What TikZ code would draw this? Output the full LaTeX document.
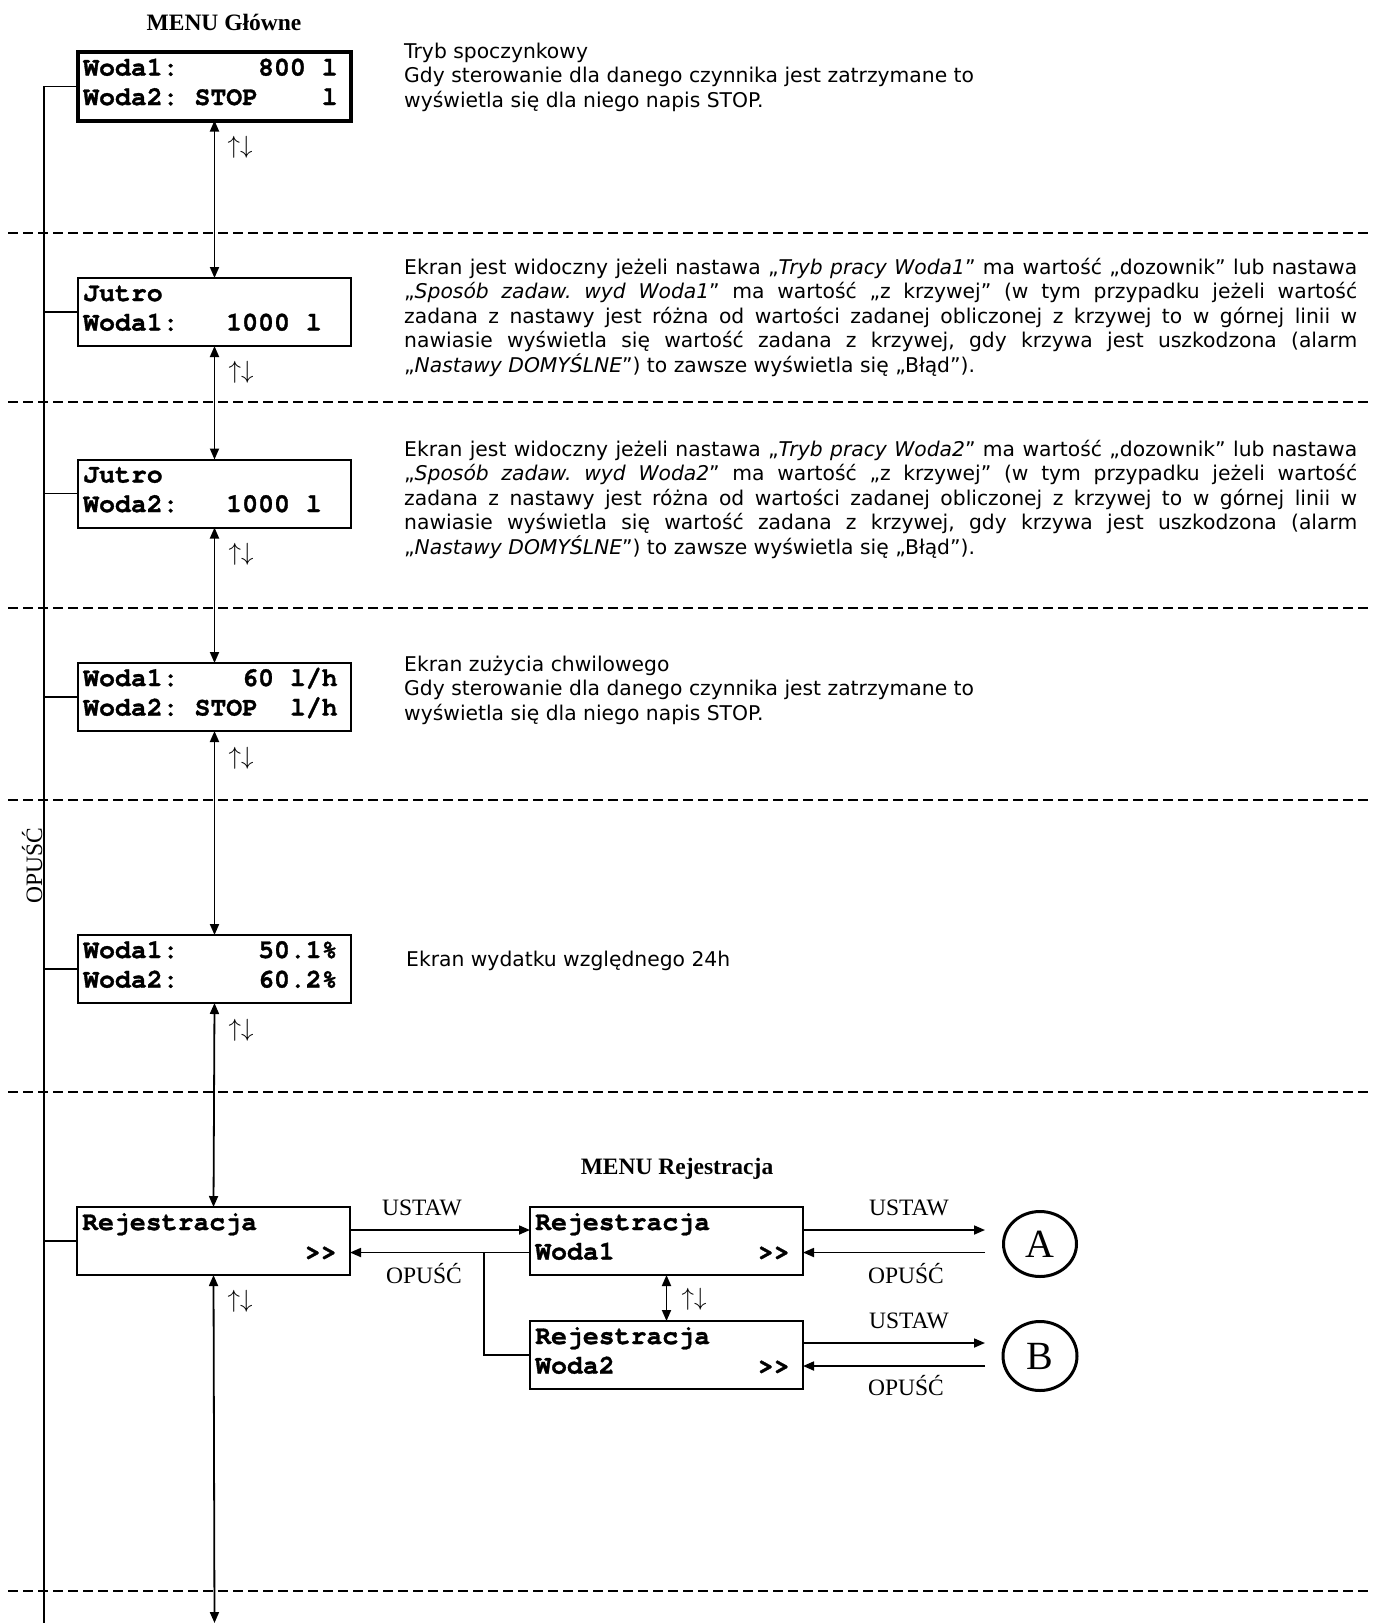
\documentclass[tikz,border=0pt]{standalone}
\usepackage{fontspec}
\setmainfont{Liberation Serif}
\newfontfamily\verd{DejaVu Sans}
\newfontfamily\lcdf{texgyrecursor}[Extension=.otf, UprightFont=*-regular, BoldFont=*-bold, BoldFeatures={FakeBold=1.2}]
\usetikzlibrary{arrows.meta,shapes.geometric}

\tikzset{
  lcdbox/.style={draw, line width=2pt, minimum width=273pt, minimum height=68pt, inner sep=0pt, outer sep=0pt},
  lcdtxt/.style={anchor=base west, inner sep=0pt, font=\lcdf\bfseries\fontsize{26.5}{30}\selectfont},
  sepline/.style={line width=1.8pt, dash pattern=on 10pt off 5pt},
  conn/.style={line width=1.8pt},
  dbl/.style={line width=1.8pt, {Triangle[length=11pt,width=9pt]}-{Triangle[length=11pt,width=9pt]}},
  arr/.style={line width=1.8pt, -{Triangle[length=11pt,width=9pt]}},
  lbl/.style={inner sep=0pt, anchor=base, font=\fontsize{23.5}{28}\selectfont},
  ttl/.style={inner sep=0pt, anchor=base, font=\bfseries\fontsize{23.5}{28}\selectfont},
  ud/.style={inner sep=0pt, font=\fontsize{26}{30}\selectfont},
  para/.style={anchor=base west, inner sep=0pt, font=\verd\fontsize{20.3}{24.5}\selectfont},
  circ/.style={draw, ellipse, line width=3pt, inner sep=0pt, font=\fontsize{40}{44}\selectfont}
}

\newcommand\lcdscreen[5]{%
  \node[lcdbox] (#1) at (#2,#3) {};
  \node[lcdtxt] (#1a) at ([shift={(5pt,-23pt)}]#1.north west) {#4};
  \node[lcdtxt] (#1b) at ([shift={(5pt,-52.5pt)}]#1.north west) {#5};
}
\newcommand\justpar[1]{\parbox[t]{953pt}{\frenchspacing\pretolerance=10000 \tolerance=10000 \hyphenpenalty=10000 \hbadness=10000 #1}}

\begin{document}
\begin{tikzpicture}[x=1pt,y=-1pt]
\useasboundingbox (0,0) rectangle (1373,1623);

% separators
\foreach \yy in {233,402,608,800,1092,1591}
  \draw[sepline] (8,\yy) -- (1373,\yy);

% titles
\node[ttl] (mg) at (224,30.5) {MENU Główne};
\node[ttl] (mr) at (677,1174.5) {MENU Rejestracja};

% screens
\lcdscreen{b1}{214.5}{86.5}{Woda1:~~~~~800~l}{Woda2:~STOP~~~~l}
\node[lcdbox, line width=3.5pt, minimum height=69pt] at (b1) {};
\lcdscreen{b2}{214.5}{312}{Jutro}{Woda1:~~~1000~l}
\lcdscreen{b3}{214.5}{493.5}{Jutro}{Woda2:~~~1000~l}
\lcdscreen{b4}{214.5}{697}{Woda1:~~~~60~l/h}{Woda2:~STOP~~l/h}
\lcdscreen{b5}{214.5}{969}{Woda1:~~~~~50.1\%}{Woda2:~~~~~60.2\%}
\lcdscreen{b6}{213.5}{1241}{Rejestracja}{~~~~~~~~~~~~~~>{}>}
\lcdscreen{r1}{666.5}{1241}{Rejestracja}{Woda1~~~~~~~~~>{}>}
\lcdscreen{r2}{666.5}{1355}{Rejestracja}{Woda2~~~~~~~~~>{}>}

% spine
\coordinate (sp0) at (44,86.5);
\coordinate (spb) at (44,1623);
\draw[conn] (spb) -- (sp0) -- (b1.west);
\foreach \b in {b2,b3,b4,b5,b6}
  \draw[conn] (\b.west) -- (\b.west -| sp0);
\node[lbl, rotate=90] (op) at (42,866) {OPUŚĆ};

% main vertical arrows
\coordinate (bot) at (214.5,1623);
\draw[dbl] (b1.south) -- (b2.north);
\draw[dbl] (b2.south) -- (b3.north);
\draw[dbl] (b3.south) -- (b4.north);
\draw[dbl] (b4.south) -- (b5.north);
\draw[dbl] (b5.south) -- (b6.north);
\draw[dbl] (b6.south) -- (bot);
\draw[dbl] (r1.south) -- (r2.north);

% up/down marks
\node[ud] (u1) at (240,147) {$\uparrow\downarrow$};
\node[ud] (u2) at (241,372) {$\uparrow\downarrow$};
\node[ud] (u3) at (241,554) {$\uparrow\downarrow$};
\node[ud] (u4) at (241,758) {$\uparrow\downarrow$};
\node[ud] (u5) at (241,1030) {$\uparrow\downarrow$};
\node[ud] (u6) at (240,1301) {$\uparrow\downarrow$};
\node[ud] (u7) at (694,1299) {$\uparrow\downarrow$};

% register menu connectors
\coordinate (ua) at (985,1230);
\coordinate (oa) at (985,1252.5);
\coordinate (ub) at (985,1343);
\coordinate (ob) at (985,1366);
\coordinate (br) at (484,1252.5);
\draw[arr] (b6.east |- ua) -- (r1.west |- ua);
\draw[arr] (r1.west |- oa) -- (b6.east |- oa);
\draw[conn] (br) |- (r2.west);
\draw[arr] (r1.east |- ua) -- (ua);
\draw[arr] (oa) -- (r1.east |- oa);
\draw[arr] (r2.east |- ub) -- (ub);
\draw[arr] (ob) -- (r2.east |- ob);

\node[circ, minimum width=73pt, minimum height=65pt] (A) at (1040,1244) {A};
\node[circ, minimum width=74pt, minimum height=69pt] (B) at (1040,1356) {B};

\node[lbl] (us0) at (422,1215) {USTAW};
\node[lbl] (op0) at (424,1283) {OPUŚĆ};
\node[lbl] (us1) at (909,1215) {USTAW};
\node[lbl] (op1) at (906,1283) {OPUŚĆ};
\node[lbl] (us2) at (909,1328) {USTAW};
\node[lbl] (op2) at (906,1395) {OPUŚĆ};

% descriptions
\node[para] (t1) at (404,58) {\parbox[t]{800pt}{\raggedright Tryb spoczynkowy\\Gdy sterowanie dla danego czynnika jest zatrzymane to\\wyświetla się dla niego napis STOP.}};
\node[para] (t2) at (404,274) {\justpar{Ekran jest widoczny jeżeli nastawa „\textit{Tryb pracy Woda1}” ma wartość „dozownik” lub nastawa \linebreak „\textit{Sposób zadaw. wyd Woda1}” ma wartość „z krzywej” (w tym przypadku jeżeli wartość \linebreak zadana z nastawy jest różna od wartości zadanej obliczonej z krzywej to w górnej linii w \linebreak nawiasie wyświetla się wartość zadana z krzywej, gdy krzywa jest uszkodzona (alarm \linebreak „\textit{Nastawy DOMYŚLNE}”) to zawsze wyświetla się „Błąd”).}};
\node[para] (t3) at (404,456) {\justpar{Ekran jest widoczny jeżeli nastawa „\textit{Tryb pracy Woda2}” ma wartość „dozownik” lub nastawa \linebreak „\textit{Sposób zadaw. wyd Woda2}” ma wartość „z krzywej” (w tym przypadku jeżeli wartość \linebreak zadana z nastawy jest różna od wartości zadanej obliczonej z krzywej to w górnej linii w \linebreak nawiasie wyświetla się wartość zadana z krzywej, gdy krzywa jest uszkodzona (alarm \linebreak „\textit{Nastawy DOMYŚLNE}”) to zawsze wyświetla się „Błąd”).}};
\node[para] (t4) at (404,671) {\parbox[t]{800pt}{\raggedright Ekran zużycia chwilowego\\Gdy sterowanie dla danego czynnika jest zatrzymane to\\wyświetla się dla niego napis STOP.}};
\node[para] (t5) at (406,966) {Ekran wydatku względnego 24h};
\end{tikzpicture}
\end{document}
